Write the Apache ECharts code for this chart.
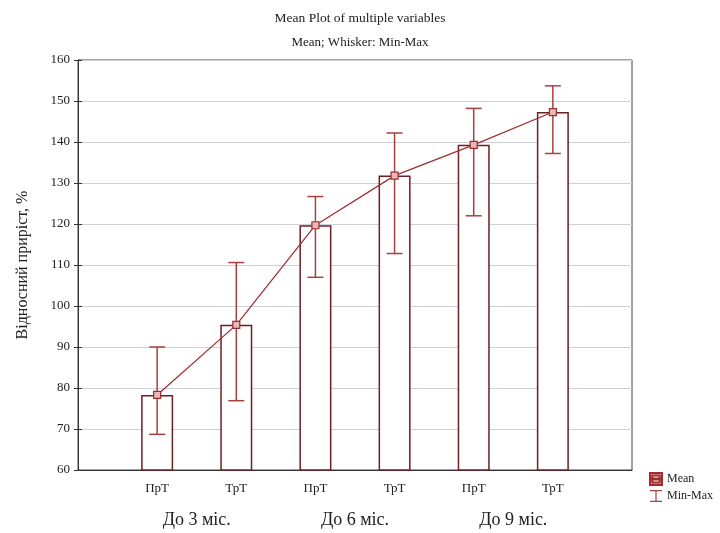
<!DOCTYPE html>
<html>
<head>
<meta charset="utf-8">
<script src="https://cdn.jsdelivr.net/npm/echarts@6/dist/echarts.min.js"></script>
<style>
  html, body { margin: 0; padding: 0; background: #fff; }
  #chart { width: 720px; height: 533px; }
</style>
</head>
<body>
<div id="chart"></div>
<script>
// дані
const groups = ['ПрТ', 'ТрТ', 'ПрТ', 'ТрТ', 'ПрТ', 'ТрТ'];
const periods = ['До 3 міс.', 'До 6 міс.', 'До 9 міс.'];
const means = [78.3, 95.4, 119.7, 131.8, 139.3, 147.3];
const mins = [68.7, 76.9, 107.0, 112.8, 122.0, 137.2];
const maxs = [90.0, 110.6, 126.7, 142.2, 148.2, 153.7];

const serif = '"Liberation Serif", "DejaVu Serif", serif';
const positions = groups.map((g, i) => i + 1);

const chart = echarts.init(document.getElementById('chart'));

chart.setOption({
  animation: false,
  title: [
    {
      text: 'Mean Plot of multiple variables',
      left: 355, top: 6, textAlign: 'center',
      textStyle: { fontFamily: serif, fontSize: 13.5, fontWeight: 'normal', color: '#222' }
    },
    {
      text: 'Mean; Whisker: Min-Max',
      left: 355, top: 31, textAlign: 'center',
      textStyle: { fontFamily: serif, fontSize: 13, fontWeight: 'normal', color: '#222' }
    }
  ],
  legend: {
    orient: 'vertical',
    left: 644, top: 467,
    itemWidth: 12, itemHeight: 12, itemGap: 4,
    textStyle: { fontFamily: serif, fontSize: 12, color: '#222' },
    data: [
      { name: 'Mean', icon: 'path://M0,0H10V10H0Z M2,2V8H8V2Z M0,4.5H10V5.5H0Z' },
      { name: 'Min-Max', icon: 'path://M0,0H10V1H0Z M4.5,0H5.5V10H4.5Z M0,9H10V10H0Z' }
    ]
  },
  grid: {
    left: 78, right: 88, top: 60, bottom: 63,
    show: true, borderColor: '#444', borderWidth: 1
  },
  xAxis: [
    {
      type: 'value', min: 0, max: 7,
      axisLine: { show: true, lineStyle: { color: '#333' } },
      axisTick: { show: true, inside: true, length: 4, customValues: positions, lineStyle: { color: '#333' } },
      axisLabel: {
        customValues: positions,
        formatter: (v) => groups[Math.round(v) - 1] || '',
        fontFamily: serif, fontSize: 13, color: '#222', margin: 12
      },
      splitLine: { show: false }
    },
    {
      type: 'value', min: 0, max: 7, position: 'bottom',
      axisLine: { show: false },
      axisTick: { show: false },
      axisLabel: {
        customValues: [1.5, 3.5, 5.5],
        formatter: (v) => periods[Math.round((v - 1.5) / 2)] || '',
        fontFamily: serif, fontSize: 18, color: '#222', margin: 41
      },
      splitLine: { show: false }
    }
  ],
  yAxis: [
    {
      type: 'value', min: 60, max: 160, interval: 10,
      name: 'Відносний приріст, %',
      nameLocation: 'middle', nameGap: 47,
      nameTextStyle: { fontFamily: serif, fontSize: 16, color: '#222' },
      axisLine: { show: true, lineStyle: { color: '#333' } },
      axisTick: { show: true, inside: true, length: 4, lineStyle: { color: '#333' } },
      axisLabel: { fontFamily: serif, fontSize: 13, color: '#222', margin: 8 },
      splitLine: { show: true, lineStyle: { color: '#cfcfdc', width: 1 } }
    },
    {
      type: 'value', min: 60, max: 160, interval: 10, position: 'right',
      axisLine: { show: true, lineStyle: { color: '#333' } },
      axisTick: { show: true, inside: true, length: 4, lineStyle: { color: '#333' } },
      axisLabel: { show: false },
      splitLine: { show: false }
    }
  ],
  series: [
    {
      name: 'bars',
      type: 'bar',
      barWidth: 32,
      data: positions.map((x, i) => [x, means[i]]),
      itemStyle: { color: '#fff', borderColor: '#6e1f22', borderWidth: 1.5 },
      silent: true,
      z: 1
    },
    {
      name: 'Min-Max',
      type: 'custom',
      data: positions.map((x, i) => [x, mins[i], maxs[i]]),
      renderItem: (params, api) => {
        const lo = api.coord([api.value(0), api.value(1)]);
        const hi = api.coord([api.value(0), api.value(2)]);
        const hw = 8;
        const style = { stroke: '#a8403f', lineWidth: 1.5 };
        return {
          type: 'group',
          children: [
            { type: 'line', shape: { x1: lo[0], y1: lo[1], x2: hi[0], y2: hi[1] }, style },
            { type: 'line', shape: { x1: lo[0] - hw, y1: lo[1], x2: lo[0] + hw, y2: lo[1] }, style },
            { type: 'line', shape: { x1: hi[0] - hw, y1: hi[1], x2: hi[0] + hw, y2: hi[1] }, style }
          ]
        };
      },
      itemStyle: { color: '#a8403f' },
      z: 3
    },
    {
      name: 'Mean',
      type: 'line',
      data: positions.map((x, i) => [x, means[i]]),
      symbol: 'rect',
      symbolSize: 7,
      lineStyle: { color: '#a02c2c', width: 1.2 },
      itemStyle: { color: '#e8b8b8', borderColor: '#a02c2c', borderWidth: 1.2 },
      z: 4
    }
  ]
});
</script>
</body>
</html>
